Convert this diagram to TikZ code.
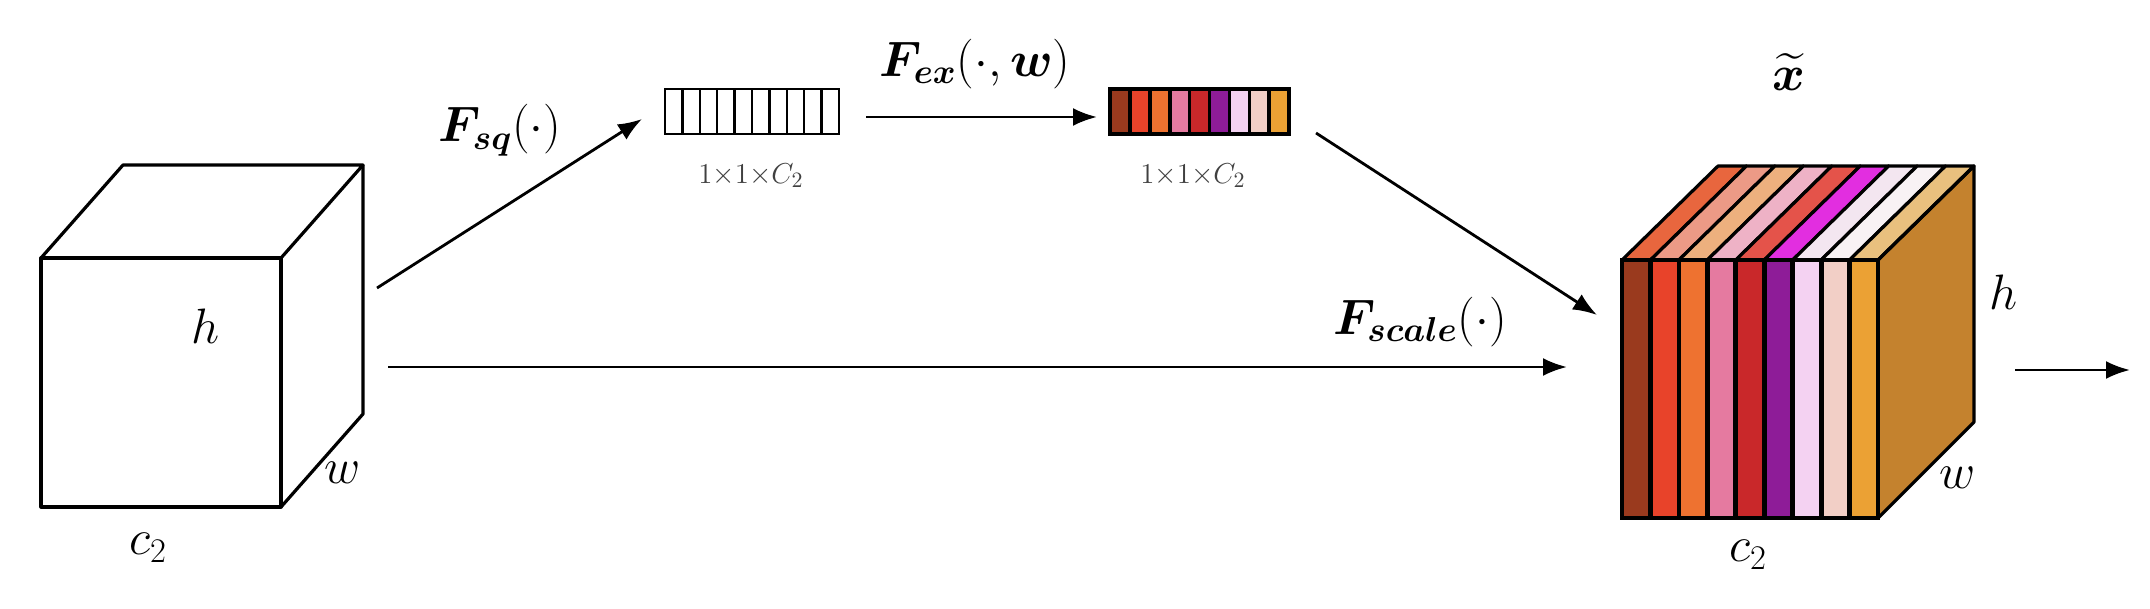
\documentclass[tikz,border=0pt]{standalone}
\usepackage{amsmath,bm}
\usetikzlibrary{arrows.meta}
\definecolor{s1}{HTML}{9A3A1E}\definecolor{s2}{HTML}{E8432A}\definecolor{s3}{HTML}{EE7230}
\definecolor{s4}{HTML}{E57AA0}\definecolor{s5}{HTML}{C9282A}\definecolor{s6}{HTML}{8E1C98}
\definecolor{s7}{HTML}{F4D2F2}\definecolor{s8}{HTML}{F2CFC6}\definecolor{s9}{HTML}{EBA134}
\definecolor{t1}{HTML}{E8663E}\definecolor{t2}{HTML}{EC9A86}\definecolor{t3}{HTML}{EDB07E}
\definecolor{t4}{HTML}{EEB2C6}\definecolor{t5}{HTML}{E4534A}\definecolor{t6}{HTML}{E22EE0}
\definecolor{t7}{HTML}{F3E6F0}\definecolor{t8}{HTML}{F8F2F4}\definecolor{t9}{HTML}{E9C07E}
\definecolor{side}{HTML}{C4822E}
\tikzset{edge/.style={line width=1.6pt,line join=round},
 arr/.style={line width=1.4pt,-{Latex[length=12pt,width=9pt]}},
 lbl/.style={font=\fontsize{24}{28}\selectfont},
 small/.style={font=\fontsize{15}{17}\selectfont,text=black!75}}
\begin{document}
\begin{tikzpicture}[x=0.5pt,y=-0.5pt]
\useasboundingbox (0,0) rectangle (2150,609);
% left cube
\draw[edge] (41,258) rectangle (281,507);
\draw[edge] (41,258) -- (123,165) -- (363,165) -- (281,258);
\draw[edge] (363,165) -- (363,414) -- (281,507);
\node[lbl] (hl) at (206,326) {$h$};
\node[lbl] (wl) at (343,473) {$w$};
\node[lbl] (cl) at (148,548) {$c_2$};
\coordinate (lc1) at (377,288);
\coordinate (lc2) at (388,367);
% bar1
\foreach \i in {0,...,9}{\draw[line width=1.2pt] (665+\i*17.4,89) rectangle ++(17.4,45);}
\node (bar1) at (752,111) [minimum width=174*0.5pt,minimum height=45*0.5pt] {};
\node[small] (b1l) at (751,176) {$1{\times}1{\times}C_2$};
% bar2
\foreach \c [count=\i from 0] in {s1,s2,s3,s4,s5,s6,s7,s8,s9}{\draw[line width=1.8pt,fill=\c] (1110+\i*19.9,89) rectangle ++(19.9,45);}
\node (bar2) at (1200,111) [minimum width=179*0.5pt,minimum height=45*0.5pt] {};
\node[small] (b2l) at (1193,176) {$1{\times}1{\times}C_2$};
% right cube
\fill[side] (1878,260) -- (1974,166) -- (1974,422) -- (1878,518) -- cycle;
\foreach \c [count=\i from 0] in {t1,t2,t3,t4,t5,t6,t7,t8,t9}{
 \draw[edge,fill=\c] (1622+\i*28.44,260) -- ++(96,-94) -- ++(28.44,0) -- ++(-96,94) -- cycle;}
\foreach \c [count=\i from 0] in {s1,s2,s3,s4,s5,s6,s7,s8,s9}{
 \draw[line width=2.4pt,fill=\c] (1622+\i*28.44,260) rectangle ++(28.44,258);}
\draw[edge] (1622,260) rectangle (1878,518);
\draw[edge] (1878,260) -- (1974,166) -- (1974,422) -- (1878,518);
\coordinate (rc1) at (1597,315);
\coordinate (rc2) at (1567,367);
\node[lbl] (xt) at (1789,72) {$\widetilde{\bm{x}}$};
\node[lbl] (hr) at (2003,292) {$h$};
\node[lbl] (wr) at (1958,478) {$w$};
\node[lbl] (cr) at (1748,555) {$c_2$};
% arrows
\draw[arr] (lc1) -- (642,119);
\node[lbl] (fsq) at (500,130) {$\bm{F_{sq}}(\cdot)$};
\draw[arr] (866,117) -- (1097,117);
\node[lbl] (fex) at (975,64) {$\bm{F_{ex}}(\cdot,\bm{w})$};
\draw[arr] (1316,133) -- (rc1);
\draw[arr] (lc2) -- (rc2);
\node[lbl] (fsc) at (1420,322) {$\bm{F_{scale}}(\cdot)$};
\coordinate (o1) at (2015,370);
\coordinate (o2) at (2130,370);
\draw[arr] (o1) -- (o2);
\end{tikzpicture}
\end{document}
